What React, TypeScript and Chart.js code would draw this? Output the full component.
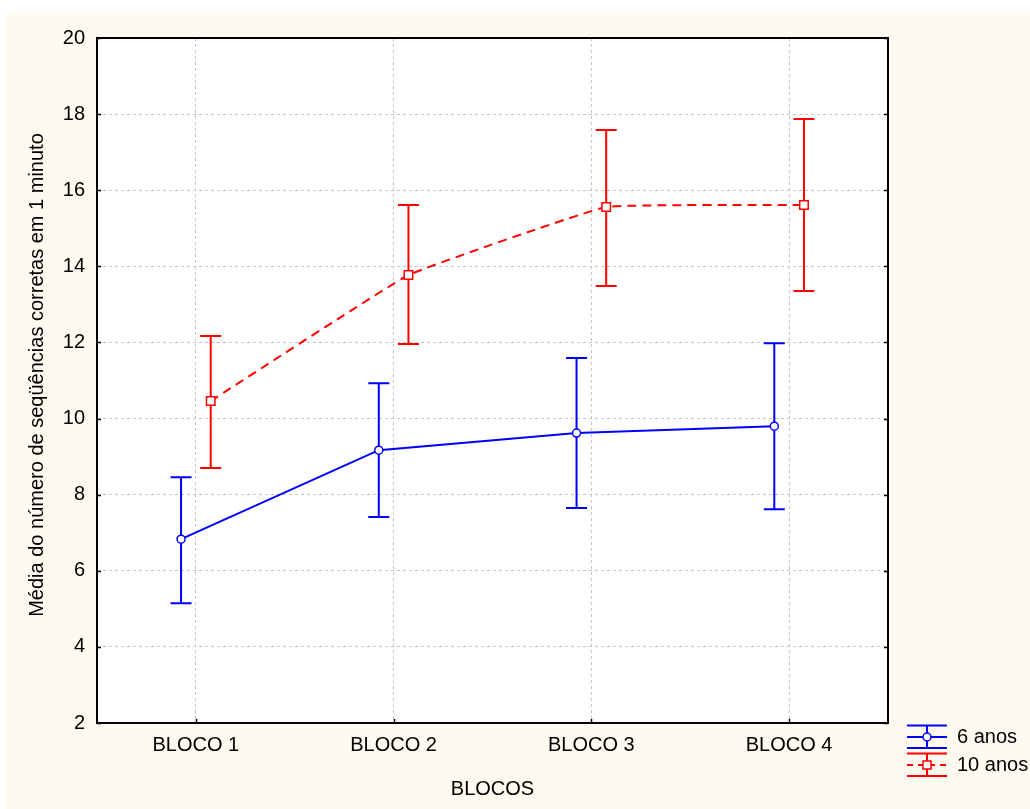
import React, { useEffect, useRef } from "react";
import { Chart, registerables } from "chart.js";

Chart.register(...registerables);

const categories = ["BLOCO 1", "BLOCO 2", "BLOCO 3", "BLOCO 4"];
const yTicks = [2, 4, 6, 8, 10, 12, 14, 16, 18, 20];

const series6Label = "6 anos";
const series6Mean = [6.83, 9.17, 9.62, 9.8];
const series6Low = [5.15, 7.41, 7.65, 7.62];
const series6High = [8.46, 10.93, 11.59, 11.98];

const series10Label = "10 anos";
const series10Mean = [10.46, 13.77, 15.56, 15.61];
const series10Low = [8.7, 11.96, 13.48, 13.35];
const series10High = [12.17, 15.61, 17.58, 17.87];

const FONT = "'Liberation Sans', Arial, sans-serif";
const BLUE = "#0000ff";
const RED = "#ff0000";
const CREAM = "#FFFAF0";
const OFFSET = 0.075;

export default function App() {
  const ref = useRef<HTMLCanvasElement | null>(null);

  useEffect(() => {
    const canvas = ref.current;
    if (!canvas) return;

    const s6 = series6Mean.map((y, i) => ({ x: i + 1 - OFFSET, y }));
    const s10 = series10Mean.map((y, i) => ({ x: i + 1 + OFFSET, y }));

    const bgPlugin = {
      id: "bg",
      beforeDraw(chart: any) {
        const { ctx, chartArea } = chart;
        ctx.save();
        ctx.fillStyle = "#ffffff";
        ctx.fillRect(0, 0, chart.width, chart.height);
        ctx.fillStyle = CREAM;
        ctx.fillRect(6, 12, chart.width - 6, chart.height - 12);
        ctx.fillStyle = "#ffffff";
        ctx.fillRect(chartArea.left, chartArea.top, chartArea.right - chartArea.left, chartArea.bottom - chartArea.top);
        ctx.restore();
      },
    };

    const errPlugin = {
      id: "errbars",
      beforeDatasetsDraw(chart: any) {
        const { ctx } = chart;
        const xs = chart.scales.x;
        const ys = chart.scales.y;
        const draw = (lows: number[], highs: number[], off: number, color: string) => {
          ctx.save();
          ctx.strokeStyle = color;
          ctx.lineWidth = 2;
          for (let i = 0; i < lows.length; i++) {
            const px = xs.getPixelForValue(i + 1 + off);
            const pl = ys.getPixelForValue(lows[i]);
            const ph = ys.getPixelForValue(highs[i]);
            ctx.beginPath();
            ctx.moveTo(px, pl);
            ctx.lineTo(px, ph);
            ctx.moveTo(px - 10.5, pl);
            ctx.lineTo(px + 10.5, pl);
            ctx.moveTo(px - 10.5, ph);
            ctx.lineTo(px + 10.5, ph);
            ctx.stroke();
          }
          ctx.restore();
        };
        draw(series6Low, series6High, -OFFSET, BLUE);
        draw(series10Low, series10High, OFFSET, RED);
      },
    };

    const framePlugin = {
      id: "frame",
      afterDraw(chart: any) {
        const { ctx, chartArea } = chart;
        const xs = chart.scales.x;
        const ys = chart.scales.y;
        ctx.save();
        ctx.strokeStyle = "#000";
        ctx.lineWidth = 1.5;
        ctx.beginPath();
        yTicks.forEach((t) => {
          const py = Math.round(ys.getPixelForValue(t)) + 0.5;
          ctx.moveTo(chartArea.left, py);
          ctx.lineTo(chartArea.left + 4, py);
          ctx.moveTo(chartArea.right - 4, py);
          ctx.lineTo(chartArea.right, py);
        });
        categories.forEach((_, i) => {
          const px = Math.round(xs.getPixelForValue(i + 1)) + 0.5;
          ctx.moveTo(px, chartArea.bottom);
          ctx.lineTo(px, chartArea.bottom - 4);
        });
        ctx.stroke();
        ctx.lineWidth = 2;
        ctx.strokeRect(chartArea.left, chartArea.top, chartArea.right - chartArea.left, chartArea.bottom - chartArea.top);

        // axis titles
        ctx.fillStyle = "#000";
        ctx.font = `20px ${FONT}`;
        ctx.textAlign = "center";
        ctx.textBaseline = "middle";
        ctx.fillText("BLOCOS", (chartArea.left + chartArea.right) / 2, 789);
        ctx.save();
        ctx.translate(37, 375);
        ctx.rotate(-Math.PI / 2);
        ctx.fillText("Média do número de seqüências corretas em 1 minuto", 0, 0);
        ctx.restore();

        // legend
        const lx0 = 907;
        const lx1 = 947;
        const lcx = 927;
        const drawEntry = (yc: number, color: string, dashed: boolean, circle: boolean, label: string) => {
          ctx.save();
          ctx.strokeStyle = color;
          ctx.lineWidth = 2;
          ctx.beginPath();
          ctx.moveTo(lx0, yc - 11.5);
          ctx.lineTo(lx1, yc - 11.5);
          ctx.moveTo(lx0, yc + 11);
          ctx.lineTo(lx1, yc + 11);
          ctx.moveTo(lcx, yc - 11.5);
          ctx.lineTo(lcx, yc + 11);
          ctx.stroke();
          if (dashed) ctx.setLineDash([6, 5]);
          ctx.beginPath();
          ctx.moveTo(lx0, yc);
          ctx.lineTo(lx1, yc);
          ctx.stroke();
          ctx.setLineDash([]);
          ctx.fillStyle = "#fff";
          ctx.lineWidth = 1.5;
          ctx.beginPath();
          if (circle) {
            ctx.arc(lcx, yc, 4, 0, Math.PI * 2);
          } else {
            ctx.rect(lcx - 4, yc - 4, 8, 8);
          }
          ctx.fill();
          ctx.stroke();
          ctx.fillStyle = "#000";
          ctx.font = `20px ${FONT}`;
          ctx.textAlign = "left";
          ctx.textBaseline = "middle";
          ctx.fillText(label, 957, yc);
          ctx.restore();
        };
        drawEntry(737, BLUE, false, true, series6Label);
        drawEntry(765, RED, true, false, series10Label);
        ctx.restore();
      },
    };

    const chart = new Chart(canvas, {
      type: "line",
      data: {
        datasets: [
          {
            label: series6Label,
            data: s6,
            borderColor: BLUE,
            borderWidth: 2,
            tension: 0,
            pointStyle: "circle",
            pointRadius: 4,
            pointBackgroundColor: "#ffffff",
            pointBorderColor: BLUE,
            pointBorderWidth: 1.5,
          },
          {
            label: series10Label,
            data: s10,
            borderColor: RED,
            borderWidth: 2,
            borderDash: [9, 6],
            tension: 0.08,
            pointStyle: "rect",
            pointRadius: 6,
            pointBackgroundColor: "#ffffff",
            pointBorderColor: RED,
            pointBorderWidth: 1.5,
          },
        ],
      },
      options: {
        responsive: false,
        animation: false,
        events: [],
        layout: { padding: { left: 0, right: 142, top: 38, bottom: 0 } },
        plugins: {
          legend: { display: false },
          tooltip: { enabled: false },
        },
        scales: {
          x: {
            type: "linear",
            min: 0.5,
            max: 4.5,
            afterFit: (s: any) => {
              s.height = 86;
            },
            afterBuildTicks: (s: any) => {
              s.ticks = categories.map((_, i) => ({ value: i + 1 }));
            },
            ticks: {
              color: "#000",
              font: { family: FONT, size: 20 },
              padding: 10,
              maxRotation: 0,
              autoSkip: false,
              callback: (v: any) => categories[Math.round(Number(v)) - 1] ?? "",
            },
            grid: { color: "#c4c4c4", lineWidth: 1, drawTicks: false },
            border: { display: false, dash: [3, 3] },
          },
          y: {
            min: 2,
            max: 20,
            afterFit: (s: any) => {
              s.width = 97;
            },
            afterBuildTicks: (s: any) => {
              s.ticks = yTicks.map((v) => ({ value: v }));
            },
            ticks: {
              color: "#000",
              font: { family: FONT, size: 20 },
              padding: 12,
            },
            grid: { color: "#c4c4c4", lineWidth: 1, drawTicks: false },
            border: { display: false, dash: [3, 3] },
          },
        },
      },
      plugins: [bgPlugin, errPlugin, framePlugin],
    } as any);

    return () => chart.destroy();
  }, []);

  return (
    <canvas
      ref={ref}
      width={1030}
      height={809}
      style={{ position: "absolute", left: 0, top: 0, width: 1030, height: 809 }}
    />
  );
}
